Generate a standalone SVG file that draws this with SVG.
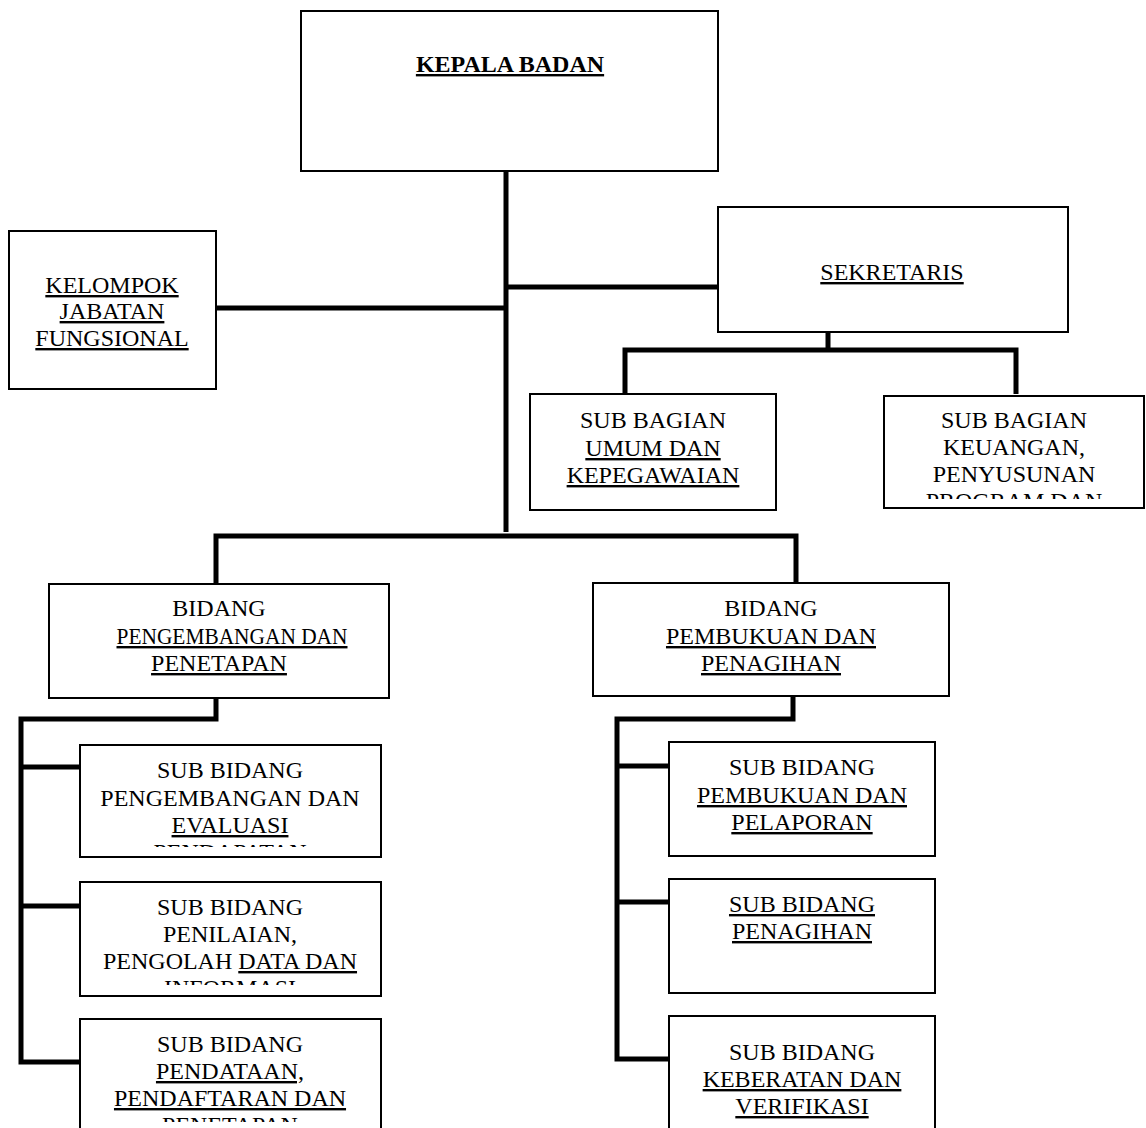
<svg xmlns="http://www.w3.org/2000/svg" width="1146" height="1128" viewBox="0 0 1146 1128">
<style>
.box{fill:#fff;stroke:#000;stroke-width:2}
.t{font-family:"Liberation Serif","Times New Roman",serif;font-size:24px;fill:#000;text-anchor:middle}
.b{font-weight:bold}
.u{text-decoration:underline}
.c{fill:none;stroke:#000;stroke-width:5;stroke-linejoin:miter}
</style>
<defs>
<clipPath id="clipKeu"><rect x="885" y="396" width="258" height="103"/></clipPath>
<clipPath id="clipL1"><rect x="81" y="746" width="298" height="101"/></clipPath>
<clipPath id="clipL2"><rect x="81" y="883" width="298" height="102"/></clipPath>
<clipPath id="clipL3"><rect x="81" y="1020" width="298" height="102"/></clipPath>
</defs>
<rect width="1146" height="1128" fill="#fff"/>
<g id="connectors">
<path class="c" d="M506,171 V532"/>
<path class="c" d="M506,287 H718"/>
<path class="c" d="M217,308 H506"/>
<path class="c" d="M828,332 V350"/>
<path class="c" d="M625,394 V350 H1016 V394"/>
<path class="c" d="M216,584 V536 H796 V583"/>
<path class="c" d="M216,699 V719 H21 V1062 H80"/>
<path class="c" d="M21,767 H80"/>
<path class="c" d="M21,906 H80"/>
<path class="c" d="M793,697 V719 H617 V1059 H669"/>
<path class="c" d="M617,766 H669"/>
<path class="c" d="M617,902 H669"/>
</g>
<g id="kepala">
<rect class="box" x="301" y="11" width="417" height="160"/>
<text class="t b u" x="510" y="72">KEPALA BADAN</text>
</g>
<g id="kelompok">
<rect class="box" x="9" y="231" width="207" height="158"/>
<text class="t u" x="112" y="293">KELOMPOK</text>
<text class="t u" x="112" y="319">JABATAN</text>
<text class="t u" x="112" y="346">FUNGSIONAL</text>
</g>
<g id="sekretaris">
<rect class="box" x="718" y="207" width="350" height="125"/>
<text class="t u" x="892" y="280">SEKRETARIS</text>
</g>
<g id="subbag-umum">
<rect class="box" x="530" y="394" width="246" height="116"/>
<text class="t" x="653" y="428">SUB BAGIAN</text>
<text class="t u" x="653" y="456">UMUM DAN</text>
<text class="t u" x="653" y="483">KEPEGAWAIAN</text>
</g>
<g id="subbag-keuangan">
<rect class="box" x="884" y="396" width="260" height="112"/>
<g clip-path="url(#clipKeu)">
<text class="t" x="1014" y="428">SUB BAGIAN</text>
<text class="t" x="1014" y="455">KEUANGAN,</text>
<text class="t" x="1014" y="482">PENYUSUNAN</text>
<text class="t" x="1014" y="509">PROGRAM DAN</text>
</g>
</g>
<g id="bidang-pengembangan">
<rect class="box" x="49" y="584" width="340" height="114"/>
<text class="t" x="219" y="616">BIDANG</text>
<text class="t u" x="232" y="644" textLength="231" lengthAdjust="spacingAndGlyphs">PENGEMBANGAN DAN</text>
<text class="t u" x="219" y="671">PENETAPAN</text>
</g>
<g id="bidang-pembukuan">
<rect class="box" x="593" y="583" width="356" height="113"/>
<text class="t" x="771" y="616">BIDANG</text>
<text class="t u" x="771" y="644">PEMBUKUAN DAN</text>
<text class="t u" x="771" y="671">PENAGIHAN</text>
</g>
<g id="subbid-pengembangan">
<rect class="box" x="80" y="745" width="301" height="112"/>
<g clip-path="url(#clipL1)">
<text class="t" x="230" y="778">SUB BIDANG</text>
<text class="t" x="230" y="806">PENGEMBANGAN DAN</text>
<text class="t u" x="230" y="833">EVALUASI</text>
<text class="t u" x="230" y="860">PENDAPATAN</text>
</g>
</g>
<g id="subbid-penilaian">
<rect class="box" x="80" y="882" width="301" height="114"/>
<g clip-path="url(#clipL2)">
<text class="t" x="230" y="915">SUB BIDANG</text>
<text class="t" x="230" y="942">PENILAIAN,</text>
<text class="t" x="230" y="969">PENGOLAH <tspan class="u">DATA DAN</tspan></text>
<text class="t u" x="230" y="996">INFORMASI</text>
</g>
</g>
<g id="subbid-pendataan">
<rect class="box" x="80" y="1019" width="301" height="120"/>
<g clip-path="url(#clipL3)">
<text class="t" x="230" y="1052">SUB BIDANG</text>
<text class="t u" x="230" y="1079">PENDATAAN,</text>
<text class="t u" x="230" y="1106">PENDAFTARAN DAN</text>
<text class="t u" x="230" y="1133">PENETAPAN</text>
</g>
</g>
<g id="subbid-pembukuan">
<rect class="box" x="669" y="742" width="266" height="114"/>
<text class="t" x="802" y="775">SUB BIDANG</text>
<text class="t u" x="802" y="803">PEMBUKUAN DAN</text>
<text class="t u" x="802" y="830">PELAPORAN</text>
</g>
<g id="subbid-penagihan">
<rect class="box" x="669" y="879" width="266" height="114"/>
<text class="t u" x="802" y="912">SUB BIDANG</text>
<text class="t u" x="802" y="939">PENAGIHAN</text>
</g>
<g id="subbid-keberatan">
<rect class="box" x="669" y="1016" width="266" height="120"/>
<text class="t" x="802" y="1060">SUB BIDANG</text>
<text class="t u" x="802" y="1087">KEBERATAN DAN</text>
<text class="t u" x="802" y="1114">VERIFIKASI</text>
</g>
</svg>
